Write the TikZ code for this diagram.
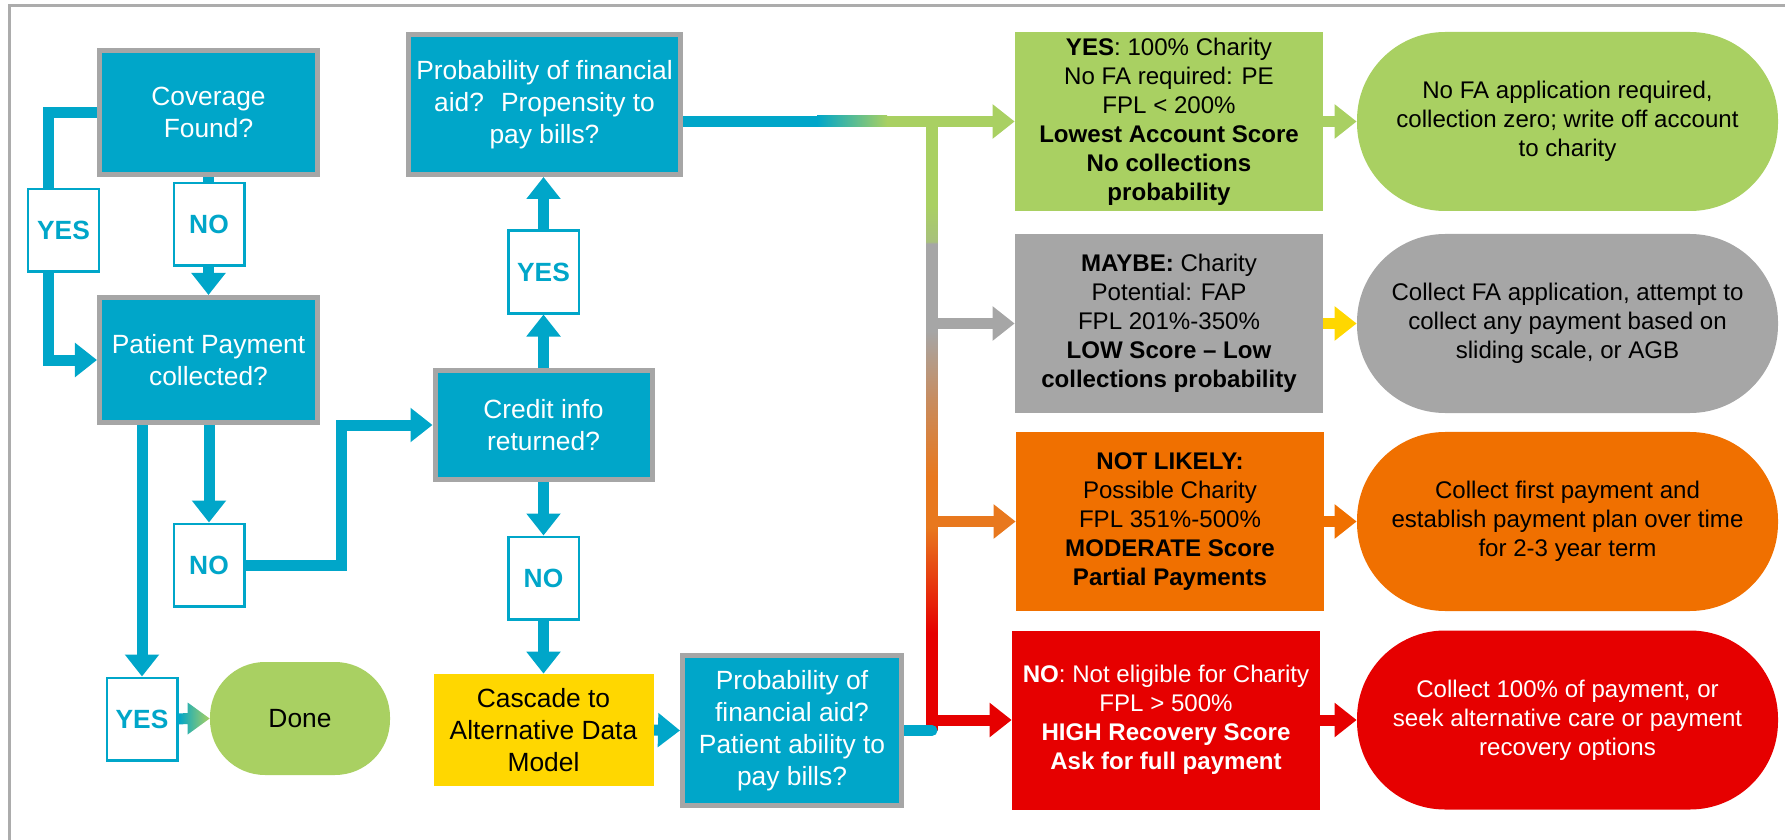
\documentclass[tikz,border=0pt]{standalone}
\usepackage{fontspec}
\setmainfont{Liberation Sans}
\usetikzlibrary{arrows.meta,backgrounds,calc}

\definecolor{flowteal}{RGB}{0,166,201}
\definecolor{boxgray}{RGB}{166,166,166}
\definecolor{framegray}{RGB}{172,172,172}
\definecolor{fagreen}{RGB}{169,208,98}
\definecolor{fagray}{RGB}{166,166,166}
\definecolor{faorange}{RGB}{240,112,0}
\definecolor{fared}{RGB}{230,0,0}
\definecolor{fayellow}{RGB}{255,215,0}
\definecolor{trunkorange}{RGB}{232,120,30}
\definecolor{trunktan}{RGB}{200,140,95}
\definecolor{trunkolive}{RGB}{168,192,125}

\pgfdeclareverticalshading{trunkshade}{100bp}{color(0bp)=(fared); color(33bp)=(fared); color(41.7bp)=(trunkorange); color(45.9bp)=(trunkorange); color(52.1bp)=(trunktan); color(57.8bp)=(fagray); color(65bp)=(fagray); color(65.1bp)=(trunkolive); color(68.1bp)=(fagreen); color(100bp)=(fagreen)}

\tikzset{
  query/.style={draw=boxgray, line width=1mm, fill=flowteal, text=white, inner sep=0pt, align=center, font=\fontsize{15}{18.2}\selectfont},
  tag/.style={draw=flowteal, line width=0.5mm, fill=white, text=flowteal, inner sep=0pt, minimum width=14.1mm, minimum height=16.5mm, font=\bfseries\fontsize{15}{18}\selectfont},
  tier/.style={inner sep=0pt, align=center, minimum width=61.6mm, minimum height=35.8mm, font=\fontsize{13.7}{16.5}\selectfont},
  outcome/.style={tier, rounded corners=17.6mm, minimum width=84.2mm},
  flow/.style={line width=2.2mm, flowteal},
  tipped/.style={-{Triangle[width=6.6mm,length=4.4mm]}}
}

\begin{document}
\begin{tikzpicture}[x=0.2mm, y=-0.2mm]
\useasboundingbox (0,0) rectangle (1785,840);
\draw[framegray, line width=0.6mm] (9.5,840) -- (9.5,5.5) -- (1785,5.5);

\node[query, minimum width=43.6mm, minimum height=24.8mm] (cov) at (208.5,112.5) {Coverage\\Found?};
\node[query, minimum width=43.6mm, minimum height=25mm] (pay) at (208.5,360) {Patient Payment\\collected?};
\node[query, minimum width=54.4mm, minimum height=28mm] (prob) at (544.5,104.5) {Probability of financial\\aid?~ Propensity to\\pay bills?};
\node[query, minimum width=43.4mm, minimum height=21.8mm] (credit) at (543.5,425) {Credit info\\returned?};
\node[query, minimum width=43.8mm, minimum height=30mm] (prob2) at (792,730.5) {Probability of\\financial aid?\\Patient ability to\\pay bills?};

\node[tag] (yes1) at (63.5,230.5) {YES};
\node[tag] (no1) at (209,224.5) {NO};
\node[tag] (yes2) at (543.5,272) {YES};
\node[tag] (no2) at (209,565) {NO};
\node[tag] (no3) at (543.5,578) {NO};
\node[tag] (yes3) at (142,719) {YES};

\node[fill=fagreen, rounded corners=11mm, minimum width=36mm, minimum height=22.6mm, font=\fontsize{15}{18.2}\selectfont] (done) at (300,718.5) {Done};
\node[fill=fayellow, inner sep=0pt, align=center, minimum width=44mm, minimum height=22.4mm, font=\fontsize{15}{18.2}\selectfont] (cascade) at (543.5,730) {Cascade to\\Alternative Data\\Model};

\node[tier, fill=fagreen] (yesbox) at (1169,121.5) {\textbf{YES}: 100\% Charity\\No FA required: PE\\FPL < 200\%\\\textbf{Lowest Account Score}\\\textbf{No collections}\\\textbf{probability}};
\node[tier, fill=fagray] (maybebox) at (1169,323.5) {\textbf{MAYBE:} Charity\\Potential: FAP\\FPL 201\%-350\%\\\textbf{LOW Score -- Low}\\\textbf{collections probability}};
\node[tier, fill=faorange] (notlikelybox) at (1170,521.5) {\textbf{NOT LIKELY:}\\Possible Charity\\FPL 351\%-500\%\\\textbf{MODERATE Score}\\\textbf{Partial Payments}};
\node[tier, fill=fared, text=white] (nobox) at (1166,720) {\textbf{NO}: Not eligible for Charity\\FPL > 500\%\\\textbf{HIGH Recovery Score}\\\textbf{Ask for full payment}};

\node[outcome, fill=fagreen] (writeoff) at (1567.5,121.5) {No FA application required,\\collection zero; write off account\\to charity};
\node[outcome, fill=fagray] (sliding) at (1567.5,323.5) {Collect FA application, attempt to\\collect any payment based on\\sliding scale, or AGB};
\node[outcome, fill=faorange] (installment) at (1567.5,521.5) {Collect first payment and\\establish payment plan over time\\for 2-3 year term};
\node[outcome, fill=fared, text=white] (recovery) at (1567.5,720) {Collect 100\% of payment, or\\seek alternative care or payment\\recovery options};

\coordinate (bus) at (932,121.5);
\coordinate (fadeA) at (817,121.5);
\coordinate (fadeB) at (887,121.5);

\begin{scope}[on background layer]
\draw[flow, tipped] (cov.west) -- ++(-48,0) |- (pay.west);
\draw[flow, tipped] (cov.south) -- (pay.north);
\draw[flow, tipped] (pay.south -| yes3.north) -- (yes3.north);
\draw[flow, tipped] (no2.north |- pay.south) -- (no2.north);
\draw[flow, tipped] (no2.east) -- ++(96,0) |- (credit.west);
\draw[flow, tipped] (credit.north) -- (yes2.south);
\draw[flow, tipped] (yes2.north) -- (yes2.north |- prob.south);
\draw[flow, tipped] (credit.south) -- (no3.north);
\draw[flow, tipped] (no3.south) -- (cascade.north);
\draw[flow, tipped] (cascade.east) -- (prob2.west);
\shade[left color=flowteal, right color=fagreen] ($(yes3.east)+(0,-5.5)$) -- ($(done.west)+(-22,-5.5)$) -- ($(done.west)+(-22,-16)$) -- (done.west) -- ($(done.west)+(-22,16)$) -- ($(done.west)+(-22,5.5)$) -- ($(yes3.east)+(0,5.5)$) -- cycle;

\draw[flow] (prob.east |- bus) -- (fadeA);
\shade[left color=flowteal, right color=fagreen] ($(fadeA)+(0,-5.5)$) rectangle ($(fadeB)+(0,5.5)$);
\draw[flow, fagreen, tipped] (fadeB) -- (yesbox.west);
\draw[flow, fagray, tipped] (bus |- maybebox.west) -- (maybebox.west);
\draw[flow, trunkorange, tipped] (bus |- notlikelybox.west) -- (notlikelybox.west);
\draw[flow, fared, tipped] (bus |- nobox.west) -- (nobox.west);
\shade[shading=trunkshade] ($(bus)+(-5.5,0)$) rectangle ($(bus |- prob2.east)+(5.5,0)$);
\draw[flow, line cap=round] (prob2.east) -- (prob2.east -| bus);

\draw[flow, fagreen, tipped] (yesbox.east) -- (writeoff.west);
\draw[flow, fayellow, tipped] (maybebox.east) -- (sliding.west);
\draw[flow, faorange, tipped] (notlikelybox.east) -- (installment.west);
\draw[flow, fared, tipped] (nobox.east) -- (recovery.west);
\end{scope}
\end{tikzpicture}
\end{document}
